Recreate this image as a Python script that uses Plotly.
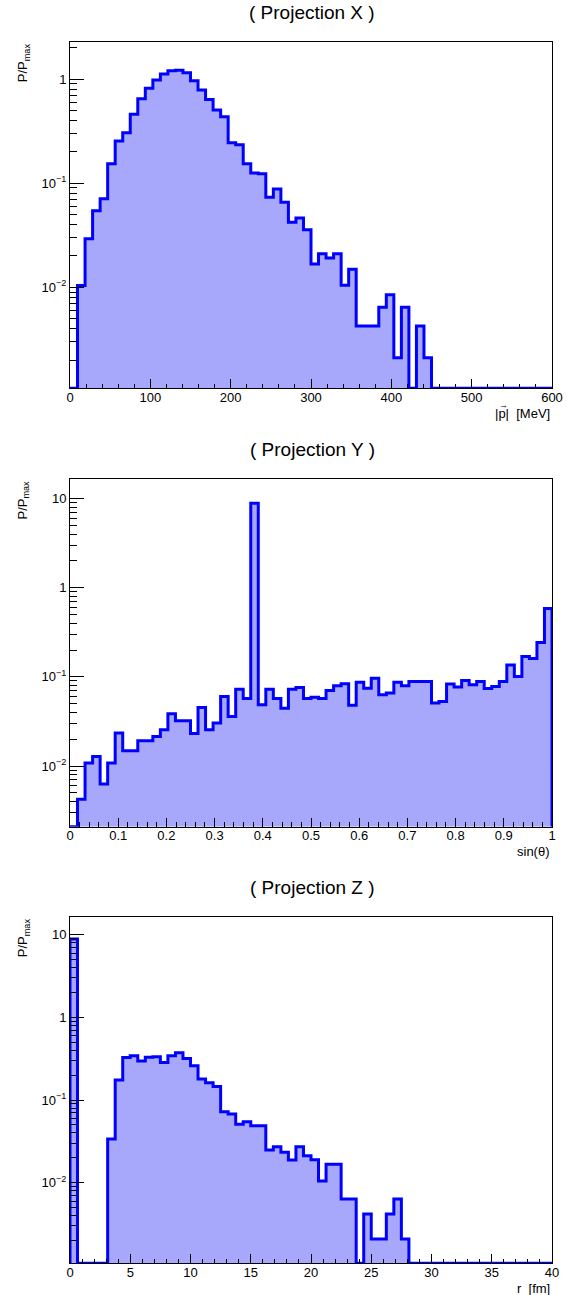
import numpy as np
import plotly.graph_objects as go

W, H = 574, 1295

# ---------------- data (64 bins per projection) ----------------
px_range = (0.0, 600.0)
px_vals = [0, 0.0104, 0.0293, 0.0545, 0.071, 0.154, 0.254, 0.305,
           0.458, 0.647, 0.814, 0.978, 1.117, 1.20, 1.21, 1.15,
           0.964, 0.784, 0.634, 0.504, 0.435, 0.245, 0.234, 0.154,
           0.125, 0.123, 0.0731, 0.0879, 0.0655, 0.0421, 0.0463, 0.0358,
           0.0168, 0.0210, 0.0191, 0.0210, 0.0105, 0.0149, 0.00425, 0.00425,
           0.00425, 0.00643, 0.0085, 0.00211, 0.00643, 0, 0.00425, 0.00211,
           0, 0, 0, 0, 0, 0, 0, 0,
           0, 0, 0, 0, 0, 0, 0, 0]

py_range = (0.0, 1.0)
py_vals = [0, 0.00425, 0.0108, 0.0128, 0.0063, 0.0108, 0.0234, 0.0148,
           0.0148, 0.0192, 0.0192, 0.0214, 0.0255, 0.0385, 0.0322, 0.0322,
           0.0232, 0.0454, 0.0255, 0.0303, 0.0603, 0.036, 0.0729, 0.0573,
           8.91, 0.0486, 0.0729, 0.0573, 0.0446, 0.0729, 0.076, 0.0573,
           0.0593, 0.0573, 0.0705, 0.0795, 0.0837, 0.0482, 0.0873, 0.0748,
           0.0969, 0.063, 0.0658, 0.0873, 0.0795, 0.0889, 0.0889, 0.0889,
           0.0508, 0.053, 0.083, 0.0768, 0.0912, 0.0815, 0.0889, 0.0742,
           0.0781, 0.0889, 0.1356, 0.101, 0.1695, 0.161, 0.243, 0.586]

pz_range = (0.0, 40.0)
pz_vals = [8.87, 0, 0, 0, 0, 0.0337, 0.1746, 0.328,
           0.344, 0.296, 0.33, 0.334, 0.285, 0.344, 0.374, 0.319,
           0.26, 0.18, 0.162, 0.146, 0.0723, 0.0677, 0.0508, 0.0547,
           0.049, 0.049, 0.0248, 0.0272, 0.0233, 0.0188, 0.0272, 0.0212,
           0.019, 0.0105, 0.0167, 0.0167, 0.00634, 0.00634, 0, 0.00418,
           0.00208, 0.00208, 0.00418, 0.00634, 0.00208, 0, 0, 0,
           0, 0, 0, 0, 0, 0, 0, 0,
           0, 0, 0, 0, 0, 0, 0, 0]

titles = ["( Projection X )", "( Projection Y )", "( Projection Z )"]
xtitles = ["|p|\u00a0\u00a0[MeV]", "sin(\u03b8)", "r\u00a0\u00a0[fm]"]
ytitle = "P/P<sub>max</sub>"

# ---------------- layout geometry (pixels) ----------------
frame_left, frame_right = 70, 552
panels = [
    dict(vals=px_vals, rng=px_range, top=41.7, bot=388.3, ylog=(-2.969, 0.358),
         dtick=100, minor=20, yt=[0.01, 0.1, 1], ytt=["10<sup>\u22122</sup>", "10<sup>\u22121</sup>", "1"]),
    dict(vals=py_vals, rng=py_range, top=479.0, bot=826.7, ylog=(-2.681, 1.221),
         dtick=0.1, minor=0.02, yt=[0.01, 0.1, 1, 10], ytt=["10<sup>\u22122</sup>", "10<sup>\u22121</sup>", "1", "10"]),
    dict(vals=pz_vals, rng=pz_range, top=916.7, bot=1263.3, ylog=(-2.975, 1.218),
         dtick=5, minor=1, yt=[0.01, 0.1, 1, 10], ytt=["10<sup>\u22122</sup>", "10<sup>\u22121</sup>", "1", "10"]),
]

FONT = "Liberation Sans, Arial, Helvetica, sans-serif"
LINE = "rgb(0,0,255)"
FILL = "rgb(167,167,251)"

fig = go.Figure()
annotations = []


def py2paper(y):
    return 1 - y / H


for i, p in enumerate(panels):
    n = len(p["vals"])
    edges = np.linspace(p["rng"][0], p["rng"][1], n + 1)
    floor = 10 ** p["ylog"][0]
    v = np.array(p["vals"], dtype=float)
    vplot = np.where(v > 0, v, floor)
    xs = [edges[0]] + list(edges[:-1]) + [edges[-1]]
    ys = [floor] + list(vplot) + [floor]
    ax = "" if i == 0 else str(i + 1)
    fig.add_trace(go.Scatter(
        x=xs, y=ys, mode="lines", line=dict(color=LINE, width=3, shape="hv"),
        fill="toself", fillcolor=FILL, xaxis="x" + ax, yaxis="y" + ax,
        showlegend=False, hoverinfo="skip"))

    dom_y = [py2paper(p["bot"]), py2paper(p["top"])]
    lo, hi = p["ylog"]
    minor_vals = [m * 10.0 ** d for d in range(int(np.floor(lo)), int(np.ceil(hi)) + 1)
                  for m in range(2, 10) if lo <= np.log10(m * 10.0 ** d) <= hi]
    xa = dict(domain=[frame_left / W, frame_right / W], range=list(p["rng"]),
              showline=True, linecolor="black", linewidth=1, mirror=True,
              ticks="inside", ticklen=9, tickwidth=1, tickcolor="black",
              dtick=p["dtick"], tick0=0, ticklabelstandoff=-3,
              minor=dict(ticks="inside", ticklen=4.5, tickwidth=1, tickcolor="black", dtick=p["minor"]),
              tickfont=dict(family=FONT, size=13, color="black"),
              showgrid=False, zeroline=False, anchor="y" + ax, fixedrange=True, automargin=False)
    ya = dict(domain=dom_y, type="log", range=[lo, hi],
              showline=True, linecolor="black", linewidth=1, mirror=True,
              ticks="inside", ticklen=14, tickwidth=1, tickcolor="black",
              tickmode="array", tickvals=p["yt"], ticktext=p["ytt"],
              minor=dict(ticks="inside", ticklen=7, tickwidth=1, tickcolor="black",
                         tickmode="array", tickvals=minor_vals, showgrid=False),
              tickfont=dict(family=FONT, size=13, color="black"),
              showgrid=False, zeroline=False, anchor="x" + ax, fixedrange=True, automargin=False)
    fig.layout["xaxis" + ax] = xa
    fig.layout["yaxis" + ax] = ya

    annotations.append(dict(text=titles[i], x=312 / W, y=py2paper(p["top"] - 29),
                            xref="paper", yref="paper", xanchor="center", yanchor="middle",
                            showarrow=False, font=dict(family=FONT, size=19, color="black")))
    annotations.append(dict(text=xtitles[i], x=frame_right / W, y=py2paper(p["bot"] + 25),
                            xref="paper", yref="paper", xanchor="right", yanchor="middle",
                            showarrow=False, font=dict(family=FONT, size=13, color="black")))
    annotations.append(dict(text=ytitle, x=23 / W, y=py2paper(p["top"]),
                            xref="paper", yref="paper", xanchor="center", yanchor="top",
                            textangle=-90, showarrow=False,
                            font=dict(family=FONT, size=13, color="black")))

# vector arrow over the "p" of the first x-axis title
annotations.append(dict(text="\u2192", x=503.5 / W, y=py2paper(panels[0]["bot"] + 17),
                        xref="paper", yref="paper", xanchor="center", yanchor="middle",
                        showarrow=False, font=dict(family=FONT, size=9, color="black")))

fig.update_layout(width=W, height=H, margin=dict(l=0, r=0, t=0, b=0, pad=0, autoexpand=False),
                  paper_bgcolor="white", plot_bgcolor="white", autosize=False,
                  annotations=annotations, showlegend=False)

post = ("document.documentElement.style.overflow='hidden';"
        "document.body.style.margin='0';document.body.style.padding='0';"
        "document.body.style.overflow='hidden';document.body.style.background='white';")

fig.write_html("out.html", config={"displayModeBar": False, "responsive": False},
               post_script=post)
